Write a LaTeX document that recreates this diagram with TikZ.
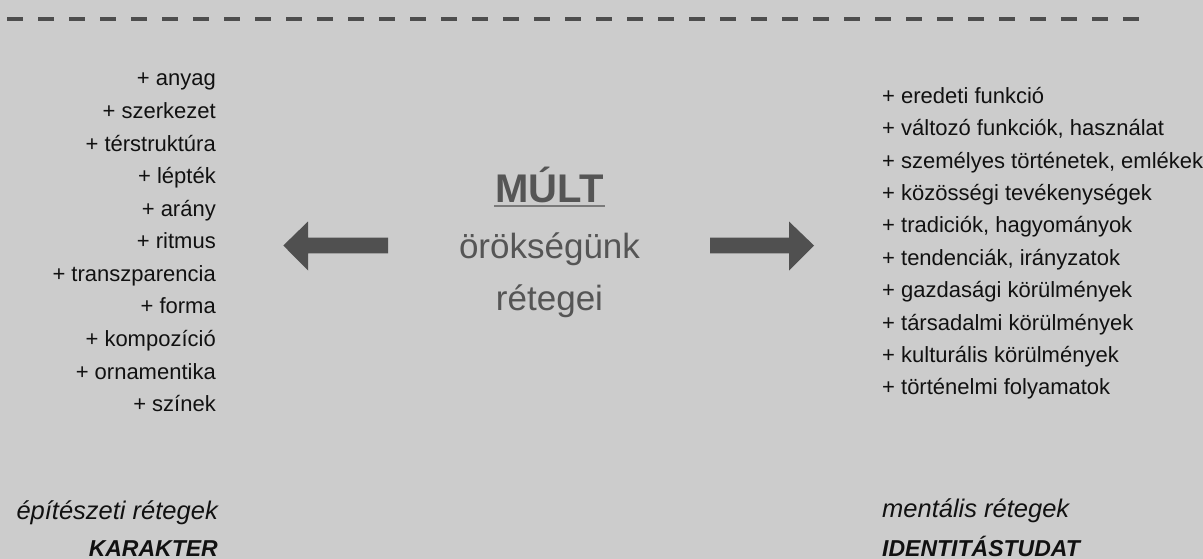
\documentclass[tikz,border=0pt]{standalone}
\usepackage{fontspec}
\setmainfont{Liberation Sans}
\usetikzlibrary{calc}
\definecolor{bg}{HTML}{CCCCCC}
\definecolor{dashc}{HTML}{4D4D4D}
\definecolor{arrowc}{HTML}{505050}
\definecolor{midtext}{HTML}{555555}
\definecolor{listtext}{HTML}{111111}
\definecolor{ulc}{HTML}{7A7A7A}
\begin{document}
\begin{tikzpicture}[x=1pt,y=-1pt,
  listitem/.style={inner sep=0pt, text=listtext, font=\fontsize{22}{26}\selectfont},
  leftitem/.style={listitem, anchor=base east},
  rightitem/.style={listitem, anchor=base west},
  midtitle/.style={inner sep=0pt, anchor=base, text=midtext, font=\fontsize{40}{44}\selectfont\bfseries},
  midsub/.style={inner sep=0pt, anchor=base, text=midtext, font=\fontsize{35}{40}\selectfont},
  caption/.style={inner sep=0pt, text=listtext, font=\fontsize{25.5}{30}\selectfont\itshape},
  captionbold/.style={inner sep=0pt, text=listtext, font=\fontsize{23}{28}\selectfont\bfseries\itshape},
  bigarrow/.style={fill=arrowc}
]
\useasboundingbox (0,0) rectangle (1203,559);
\clip (0,0) rectangle (1203,559);
\fill[bg] (0,0) rectangle (1203,559);

% dashed line
\coordinate (dl) at (7,19);
\coordinate (dr) at (1138.5,19);
\draw[dashc, line width=4.5pt, dash pattern=on 15.5pt off 15.5pt] (dl) -- (dr);

% left list
\foreach \t [count=\i from 0] in {anyag,szerkezet,térstruktúra,lépték,arány,ritmus,transzparencia,forma,kompozíció,ornamentika,színek}{
  \node[leftitem] (l\i) at (216,86+32.57*\i) {+ \t};
}

% right list
\foreach \t [count=\i from 0] in {eredeti funkció,{változó funkciók, használat},{személyes történetek, emlékek},közösségi tevékenységek,{tradiciók, hagyományok},{tendenciák, irányzatok},gazdasági körülmények,társadalmi körülmények,kulturális körülmények,történelmi folyamatok}{
  \node[rightitem] (r\i) at (882,103.3+32.4*\i) {+ \t};
}

% center text
\node[midtitle] (mult) at (549.5,202.7) {MÚLT};
\draw[ulc, line width=2pt] ($(mult.base west)+(-1,3.5)$) -- ($(mult.base east)+(1,3.5)$);
\node[midsub] (orok) at (549.5,258.3) {örökségünk};
\node[midsub] (reteg) at (549.5,310) {rétegei};

% arrows
\fill[bigarrow] (283.3,245.5) -- (308,221.5) -- (308,237.7) -- (388,237.7) -- (388,253.3) -- (308,253.3) -- (308,270.5) -- cycle;
\fill[bigarrow] (814,245.5) -- (789,221.5) -- (789,237.7) -- (710,237.7) -- (710,253.3) -- (789,253.3) -- (789,270.5) -- cycle;

% captions
\node[caption, anchor=base east] (epit) at (218,519) {építészeti rétegek};
\node[captionbold, anchor=base east] (kar) at (218,556.5) {KARAKTER};
\node[caption, anchor=base west] (ment) at (882,517) {mentális rétegek};
\node[captionbold, anchor=base west] (ident) at (882,556.5) {IDENTITÁSTUDAT};
\end{tikzpicture}
\end{document}
